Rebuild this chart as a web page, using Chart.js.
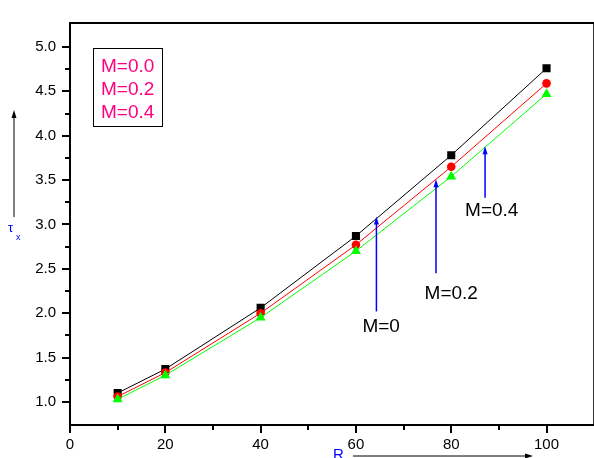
<!DOCTYPE html>
<html>
<head>
<meta charset="utf-8">
<script src="https://cdn.jsdelivr.net/npm/chart.js@4.4.0/dist/chart.umd.min.js"></script>
<style>
  html, body { margin: 0; padding: 0; background: #fff; overflow: hidden; }
  #wrap { position: relative; width: 600px; height: 458px; }
</style>
</head>
<body>
<div id="wrap"><canvas id="chart"></canvas></div>
<script>
// values
const rValues = [10, 20, 40, 60, 80, 100];
const tauM00 = [1.10, 1.37, 2.06, 2.87, 3.78, 4.76];
const tauM02 = [1.06, 1.33, 2.00, 2.77, 3.65, 4.59];
const tauM04 = [1.03, 1.30, 1.95, 2.70, 3.54, 4.47];
const seriesNames = ["M=0.0", "M=0.2", "M=0.4"];

const xTicks = [0, 20, 40, 60, 80, 100];
const xMinorTicks = [10, 30, 50, 70, 90];
const yTicks = [1.0, 1.5, 2.0, 2.5, 3.0, 3.5, 4.0, 4.5, 5.0];
const yMinorTicks = [1.25, 1.75, 2.25, 2.75, 3.25, 3.75, 4.25, 4.75];

// arrow annotations (data coordinates)
const arrowLabels = ["M=0", "M=0.2", "M=0.4"];
const arrowX = [64.3, 76.8, 87.1];
const arrowTop = [3.09, 3.51, 3.88];
const arrowBottom = [2.02, 2.45, 3.30];
const labelX = [65.3, 80.0, 88.5];
const labelY = [1.79, 2.16, 3.10];

const FONT = "'Liberation Sans', Arial, sans-serif";

function toPoints(ys) {
  return rValues.map((r, i) => ({ x: r, y: ys[i] }));
}

function drawArrow(ctx, x1, y1, x2, y2, color, width) {
  const ang = Math.atan2(y2 - y1, x2 - x1);
  const len = 8, half = 2.5;
  ctx.save();
  ctx.strokeStyle = color;
  ctx.fillStyle = color;
  ctx.lineWidth = width;
  ctx.beginPath();
  ctx.moveTo(x1, y1);
  ctx.lineTo(x2 - Math.cos(ang) * len * 0.8, y2 - Math.sin(ang) * len * 0.8);
  ctx.stroke();
  ctx.beginPath();
  ctx.moveTo(x2, y2);
  ctx.lineTo(x2 - Math.cos(ang) * len - Math.sin(ang) * half, y2 - Math.sin(ang) * len + Math.cos(ang) * half);
  ctx.lineTo(x2 - Math.cos(ang) * len + Math.sin(ang) * half, y2 - Math.sin(ang) * len - Math.cos(ang) * half);
  ctx.closePath();
  ctx.fill();
  ctx.restore();
}

// frame, ticks, legend box, notes
const decorations = {
  id: "decorations",
  afterDraw(chart) {
    const ctx = chart.ctx;
    const a = chart.chartArea;
    const xs = chart.scales.x, ys = chart.scales.y;

    ctx.save();
    ctx.strokeStyle = "#000";
    ctx.lineWidth = 2;
    ctx.strokeRect(a.left, a.top, a.right - a.left, a.bottom - a.top);

    // ticks pointing outward
    ctx.beginPath();
    xTicks.forEach((v) => {
      const px = Math.round(xs.getPixelForValue(v));
      ctx.moveTo(px, a.bottom); ctx.lineTo(px, a.bottom + 8);
    });
    xMinorTicks.forEach((v) => {
      const px = Math.round(xs.getPixelForValue(v));
      ctx.moveTo(px, a.bottom); ctx.lineTo(px, a.bottom + 5);
    });
    yTicks.forEach((v) => {
      const py = Math.round(ys.getPixelForValue(v));
      ctx.moveTo(a.left, py); ctx.lineTo(a.left - 8, py);
    });
    yMinorTicks.forEach((v) => {
      const py = Math.round(ys.getPixelForValue(v));
      ctx.moveTo(a.left, py); ctx.lineTo(a.left - 5, py);
    });
    ctx.stroke();

    // legend box
    ctx.lineWidth = 1;
    ctx.strokeRect(a.left + 23.5, a.top + 25.5, 69, 78);
    ctx.fillStyle = "#ff0080";
    ctx.font = `19px ${FONT}`;
    ctx.textAlign = "left";
    ctx.textBaseline = "alphabetic";
    seriesNames.forEach((name, i) => {
      ctx.fillText(name, a.left + 31, a.top + 49 + i * 23);
    });

    // blue arrows with labels
    arrowLabels.forEach((txt, i) => {
      const px = xs.getPixelForValue(arrowX[i]);
      drawArrow(ctx, px, ys.getPixelForValue(arrowBottom[i]), px, ys.getPixelForValue(arrowTop[i]), "#0000ff", 1.5);
      ctx.fillStyle = "#000";
      ctx.textAlign = "center";
      ctx.fillText(txt, xs.getPixelForValue(labelX[i]), ys.getPixelForValue(labelY[i]));
    });

    // axis titles
    ctx.fillStyle = "#0000ff";
    ctx.textAlign = "left";
    ctx.font = `13px ${FONT}`;
    ctx.fillText("\u03c4", 8, 232);
    ctx.font = `9px ${FONT}`;
    ctx.fillText("x", 16, 240);
    ctx.font = `15px ${FONT}`;
    ctx.fillText("R", 333, 459);

    drawArrow(ctx, 14, 217, 14, 110, "#000", 1);
    drawArrow(ctx, 353, 456, 533, 456, "#000", 1);
    ctx.restore();
  },
};

const tickFont = { family: FONT, size: 15 };

new Chart(document.getElementById("chart"), {
  type: "line",
  data: {
    datasets: [
      {
        label: seriesNames[0],
        data: toPoints(tauM00),
        borderColor: "#000000",
        backgroundColor: "#000000",
        pointStyle: "rect",
        pointRadius: 5.7,
        order: 3,
      },
      {
        label: seriesNames[1],
        data: toPoints(tauM02),
        borderColor: "#ff0000",
        backgroundColor: "#ff0000",
        pointStyle: "circle",
        pointRadius: 4.3,
        order: 2,
      },
      {
        label: seriesNames[2],
        data: toPoints(tauM04),
        borderColor: "#00ff00",
        backgroundColor: "#00ff00",
        pointStyle: "triangle",
        pointRadius: 5.8,
        order: 1,
      },
    ].map((d) => ({ ...d, borderWidth: 1, pointBorderWidth: 0, tension: 0, fill: false })),
  },
  options: {
    responsive: true,
    maintainAspectRatio: false,
    animation: false,
    layout: { padding: { top: 8, right: 3, left: 0, bottom: 0 } },
    plugins: {
      legend: { display: false },
      tooltip: { enabled: false },
    },
    scales: {
      x: {
        type: "linear",
        min: 0,
        max: 110,
        afterBuildTicks: (s) => { s.ticks = xTicks.map((v) => ({ value: v })); },
        afterFit: (s) => { s.height = 33; },
        grid: { display: false, drawTicks: false },
        border: { display: false },
        ticks: { color: "#000", font: tickFont, padding: 11, maxRotation: 0, autoSkip: false },
      },
      y: {
        type: "linear",
        min: 0.74,
        max: 5.27,
        afterBuildTicks: (s) => { s.ticks = yTicks.map((v) => ({ value: v })); },
        afterFit: (s) => { s.width = 70; },
        grid: { display: false, drawTicks: false },
        border: { display: false },
        ticks: { color: "#000", font: tickFont, padding: 14, autoSkip: false, callback: (v) => Number(v).toFixed(1) },
      },
    },
  },
  plugins: [decorations],
});
</script>
</body>
</html>
